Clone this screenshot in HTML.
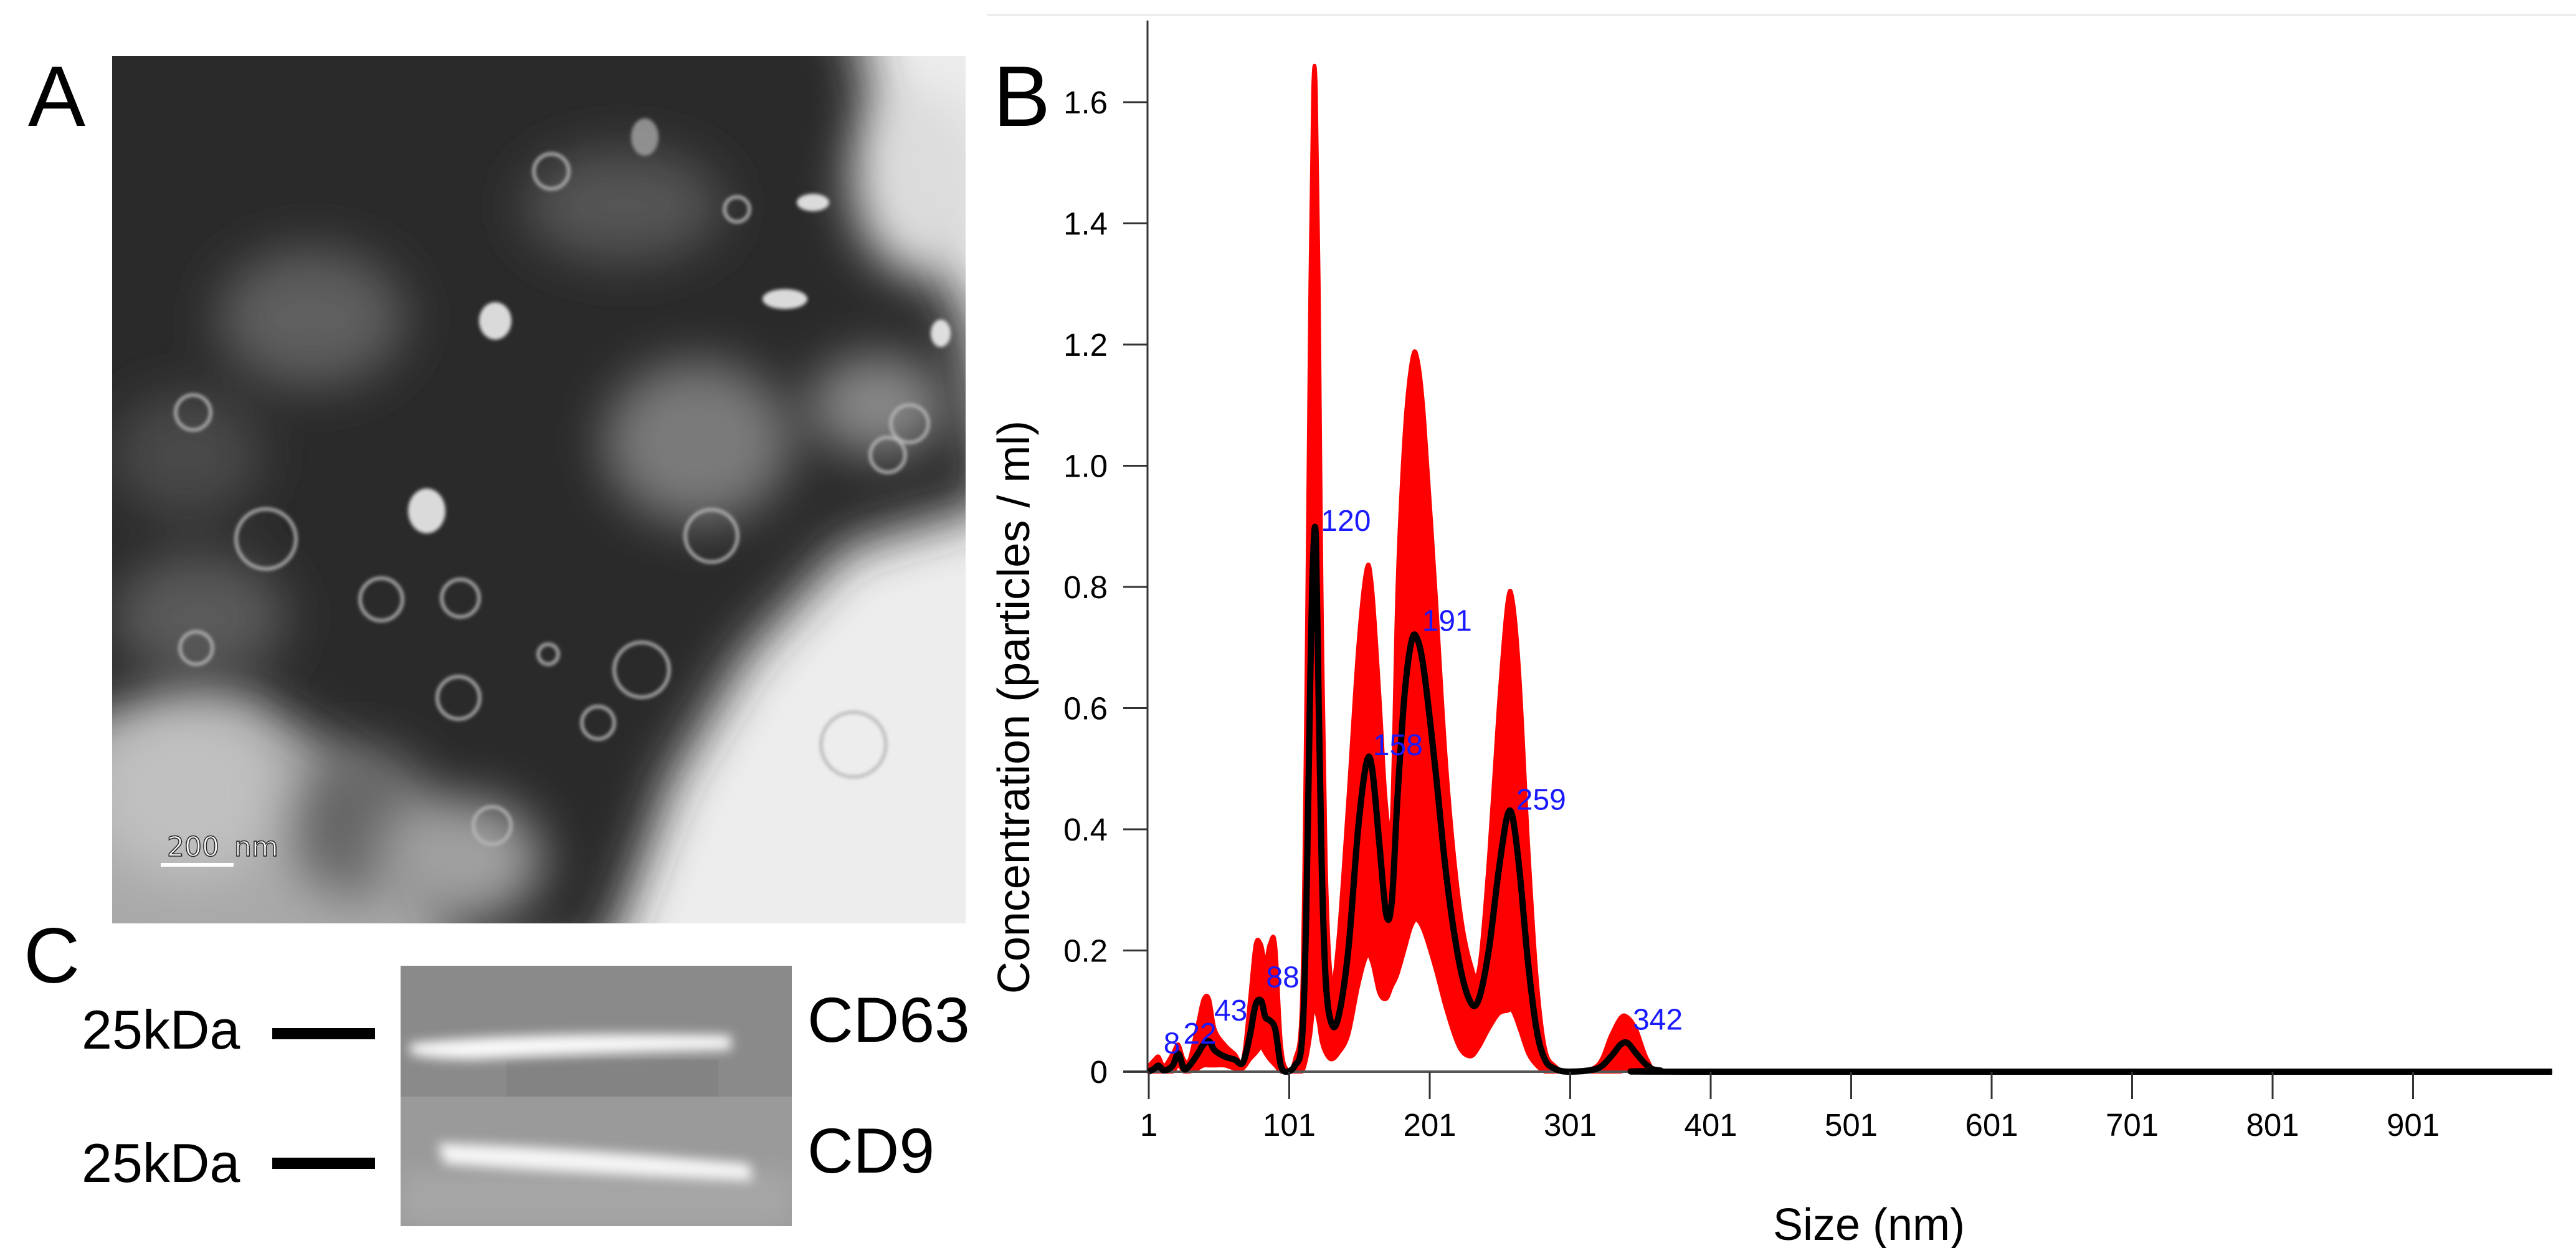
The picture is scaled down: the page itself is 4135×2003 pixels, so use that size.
<!DOCTYPE html>
<html><head><meta charset="utf-8">
<style>
html,body{margin:0;padding:0;background:#fff;}
#fig{position:relative;width:4135px;height:2003px;overflow:hidden;font-family:"Liberation Sans",sans-serif;}
svg{position:absolute;left:0;top:0;}
</style></head>
<body>
<div id="fig">
<svg id="svg" width="4135" height="2003" viewBox="0 0 4135 2003">
<defs>
<filter id="b40" x="-30%" y="-30%" width="160%" height="160%"><feGaussianBlur stdDeviation="40"/></filter>
<filter id="b20" x="-30%" y="-30%" width="160%" height="160%"><feGaussianBlur stdDeviation="18"/></filter>
<filter id="b3"><feGaussianBlur stdDeviation="3"/></filter>
<filter id="b8" x="-20%" y="-100%" width="140%" height="300%"><feGaussianBlur stdDeviation="9"/></filter>
<clipPath id="clipA"><rect x="0" y="0" width="1370" height="1392"/></clipPath>
<clipPath id="clipC"><rect x="0" y="0" width="628" height="418"/></clipPath>
</defs>

<!-- Panel labels -->
<text x="45" y="202" font-size="138">A</text>
<text x="1594" y="202" font-size="138">B</text>
<text x="38" y="1577" font-size="125">C</text>

<!-- Panel A: TEM image -->
<g transform="translate(180,90)" clip-path="url(#clipA)">
  <rect x="0" y="0" width="1370" height="1392" fill="#ededed"/>
  <ellipse cx="300" cy="1230" rx="520" ry="330" fill="#a9a9a9" filter="url(#b40)"/>
  <polygon points="-100,-100 1180,-100 1250,180 1370,420 1420,720 1180,790 1020,960 900,1160 790,1450 560,1450 460,1180 200,1020 -100,1080" fill="#2c2c2c" filter="url(#b40)"/>
  <g filter="url(#b40)">
    <ellipse cx="320" cy="420" rx="150" ry="110" fill="#5e5e5e"/>
    <ellipse cx="820" cy="240" rx="160" ry="90" fill="#555"/>
    <ellipse cx="940" cy="620" rx="150" ry="130" fill="#7a7a7a"/>
    <ellipse cx="120" cy="1180" rx="160" ry="140" fill="#c0c0c0"/>
    <ellipse cx="400" cy="1230" rx="120" ry="120" fill="#666"/>
    <ellipse cx="560" cy="1290" rx="130" ry="100" fill="#a0a0a0"/>
    <ellipse cx="1230" cy="560" rx="110" ry="80" fill="#888"/>
    <ellipse cx="1300" cy="200" rx="110" ry="150" fill="#dcdcdc"/>
    <ellipse cx="120" cy="640" rx="120" ry="100" fill="#4a4a4a"/>
    <ellipse cx="140" cy="900" rx="140" ry="100" fill="#5a5a5a"/>
  </g>
  <g fill="none" stroke="#b8b8b8" stroke-width="5" filter="url(#b3)">
    <circle cx="705" cy="185" r="28"/><circle cx="1003" cy="246" r="20"/>
    <circle cx="130" cy="572" r="28"/><circle cx="247" cy="775" r="48"/>
    <circle cx="432" cy="872" r="34"/><circle cx="559" cy="870" r="30"/>
    <circle cx="962" cy="770" r="42"/><circle cx="850" cy="985" r="44"/>
    <circle cx="556" cy="1030" r="34"/><circle cx="780" cy="1070" r="26"/>
    <circle cx="1190" cy="1105" r="52"/><circle cx="1280" cy="590" r="30"/>
    <circle cx="1245" cy="640" r="28"/><circle cx="700" cy="960" r="16"/>
    <circle cx="135" cy="950" r="26"/><circle cx="610" cy="1235" r="30"/>
  </g>
  <g fill="#eeeeee" filter="url(#b3)" opacity="0.9">
    <ellipse cx="615" cy="425" rx="26" ry="30"/>
    <ellipse cx="1080" cy="390" rx="36" ry="16"/>
    <ellipse cx="1125" cy="235" rx="26" ry="14"/>
    <ellipse cx="505" cy="730" rx="30" ry="36"/>
    <ellipse cx="1330" cy="445" rx="16" ry="22"/>
    <ellipse cx="855" cy="130" rx="22" ry="30" fill="#999"/>
  </g>
  <line x1="78" y1="1298" x2="195" y2="1298" stroke="#fff" stroke-width="6"/>
  <text x="88" y="1284" font-size="44" fill="#fff" stroke="#222" stroke-width="1.5" font-family="DejaVu Sans, sans-serif">200 <tspan dx="10">nm</tspan></text>
</g>

<!-- Panel C: western blot -->
<g transform="translate(643,1550)" clip-path="url(#clipC)">
  <rect x="0" y="0" width="628" height="210" fill="#8a8a8a"/>
  <rect x="0" y="210" width="628" height="208" fill="#9a9a9a"/>
  <rect x="170" y="150" width="340" height="60" fill="#838383"/>
  <rect x="0" y="330" width="628" height="88" fill="#a6a6a6" filter="url(#b20)"/>
  <path d="M15,125 Q200,105 530,112 L530,135 Q300,140 120,150 Q40,150 15,140 Z" fill="#fbfbfb" filter="url(#b8)"/>
  <path d="M60,285 Q250,290 560,318 L565,345 Q300,335 70,318 Z" fill="#f6f6f6" filter="url(#b8)"/>
</g>
<text x="131" y="1683" font-size="88">25kDa</text>
<rect x="437" y="1650" width="165" height="18" fill="#000"/>
<text x="131" y="1897" font-size="88">25kDa</text>
<rect x="437" y="1858" width="165" height="18" fill="#000"/>
<text x="1296" y="1672" font-size="102">CD63</text>
<text x="1296" y="1882" font-size="102">CD9</text>

<!-- Panel B chart -->
<line x1="1585" y1="24" x2="4135" y2="24" stroke="#e8e8e8" stroke-width="3"/>
<g id="chart"></g>
</svg>
</div>
<script>
const sizes = [1,5,8,12,18,22,26,30,36,40,44,48,55,62,68,73,77,81,84,87,91,95,99,105,110,113,116,118,120,122,124,127,131,136,143,150,156,160,165,170,174,178,183,188,192,197,205,213,222,230,236,243,250,256,260,265,271,277,283,290,300,320,330,337,342,348,356,365,400,1000];
const meanConc = [0,0.005,0.01,0.002,0.01,0.03,0.005,0.01,0.03,0.045,0.05,0.035,0.025,0.02,0.015,0.06,0.11,0.117,0.09,0.085,0.07,0.01,0,0.01,0.05,0.25,0.65,0.85,0.88,0.6,0.35,0.15,0.08,0.09,0.2,0.4,0.51,0.5,0.38,0.26,0.28,0.45,0.62,0.71,0.715,0.66,0.5,0.32,0.18,0.115,0.12,0.2,0.33,0.42,0.42,0.33,0.18,0.07,0.02,0.005,0,0.005,0.025,0.045,0.047,0.03,0.01,0.002,0,0];
const upperConc = [0.01,0.02,0.025,0.01,0.03,0.045,0.02,0.02,0.08,0.12,0.12,0.07,0.045,0.03,0.02,0.12,0.21,0.21,0.18,0.21,0.21,0.05,0.005,0.02,0.12,0.6,1.3,1.62,1.62,1.3,0.8,0.35,0.15,0.22,0.45,0.7,0.83,0.8,0.63,0.44,0.42,0.8,1.05,1.17,1.18,1.08,0.8,0.5,0.28,0.18,0.17,0.35,0.6,0.77,0.78,0.65,0.38,0.16,0.04,0.01,0,0.01,0.06,0.09,0.09,0.07,0.02,0,0,0];
const lowerConc = [0,0,0,0,0,0.01,0,0,0.005,0.01,0.01,0.01,0.01,0.005,0.005,0.02,0.03,0.04,0.03,0.02,0.01,0,0,0,0,0.02,0.06,0.1,0.1,0.08,0.05,0.03,0.02,0.03,0.06,0.14,0.19,0.18,0.13,0.12,0.14,0.16,0.2,0.24,0.25,0.23,0.17,0.1,0.04,0.025,0.04,0.07,0.095,0.1,0.1,0.07,0.03,0.01,0,0,0,0,0,0,0.005,0,0,0,0,0];
const peakLabels = ["8","22","43","88","120","158","191","259","342"];
const peakSizes = [8,22,44,81,120,157,192,259,342];
const peakConc = [0.018,0.034,0.072,0.127,0.88,0.51,0.715,0.42,0.057];
const yTicks = [0,0.2,0.4,0.6,0.8,1.0,1.2,1.4,1.6];
const yTickLabels = ["0","0.2","0.4","0.6","0.8","1.0","1.2","1.4","1.6"];
const xTicks = [1,101,201,301,401,501,601,701,801,901];

const NS = "http://www.w3.org/2000/svg";
const X0 = 1844, XS = 2.255, Y0 = 1720, YS = 972.5;
function xs(v){ return X0 + (v-1)*XS; }
function ys(v){ return Y0 - v*YS; }
const chart = document.getElementById('chart');
function mk(tag, attrs){ const e=document.createElementNS(NS,tag); for(const k in attrs) e.setAttribute(k,attrs[k]); chart.appendChild(e); return e; }
function smooth(pts){
  let d = "M"+pts[0][0].toFixed(1)+","+pts[0][1].toFixed(1);
  for(let i=0;i<pts.length-1;i++){
    const p0=pts[Math.max(0,i-1)], p1=pts[i], p2=pts[i+1], p3=pts[Math.min(pts.length-1,i+2)];
    const c1x=p1[0]+(p2[0]-p0[0])/6, c1y=p1[1]+(p2[1]-p0[1])/6;
    const c2x=p2[0]-(p3[0]-p1[0])/6, c2y=p2[1]-(p3[1]-p1[1])/6;
    d += " C"+c1x.toFixed(1)+","+Math.min(Y0,c1y).toFixed(1)+" "+c2x.toFixed(1)+","+Math.min(Y0,c2y).toFixed(1)+" "+p2[0].toFixed(1)+","+p2[1].toFixed(1);
  }
  return d;
}
const up = sizes.map((s,i)=>[xs(s), ys(upperConc[i])]);
const lo = sizes.map((s,i)=>[xs(s), ys(lowerConc[i])]).reverse();
const band = mk('path',{d: smooth(up)+" L"+lo[0][0]+","+lo[0][1]+" "+smooth(lo).slice(1)+" Z", fill:'#ff0000', stroke:'#ff0000', 'stroke-width':6});


const xax = mk('line',{x1:1803,y1:Y0,x2:4090,y2:Y0,stroke:'#555',"stroke-width":4});


const yax = mk('line',{x1:X0-2,y1:33,x2:X0-2,y2:Y0,stroke:'#333',"stroke-width":3});


const mean = mk('path',{d: smooth(sizes.map((s,i)=>[xs(s), ys(meanConc[i])])), fill:'none', stroke:'#000', 'stroke-width':10, 'stroke-linejoin':'round'});


yTicks.forEach((t,i)=>{
  const l = mk('line',{x1:1803,y1:ys(t),x2:X0-2,y2:ys(t),stroke:'#333','stroke-width':3});
  
  
  const tx = mk('text',{x:1778,y:ys(t)+18,'font-size':51,'text-anchor':'end',fill:'#000'});
  tx.textContent = yTickLabels[i];
  
  
});
xTicks.forEach(t=>{
  const l = mk('line',{x1:xs(t),y1:Y0,x2:xs(t),y2:1764,stroke:'#333','stroke-width':3});
  
  
  const tx = mk('text',{x:xs(t),y:1823,'font-size':51,'text-anchor':'middle',fill:'#000'});
  tx.textContent = String(t);
  
  
});
peakLabels.forEach((lab,i)=>{
  const tx = mk('text',{x:xs(peakSizes[i])+8,y:ys(peakConc[i])-12,'font-size':48,fill:'#1a1aff'});
  tx.textContent = lab;
  
  
});
const yt = mk('text',{x:0,y:0,'font-size':72,'text-anchor':'middle',transform:'translate(1652,1135) rotate(-90)'});
yt.textContent = 'Concentration (particles / ml)';


const xt = mk('text',{x:3000,y:1990,'font-size':72,'text-anchor':'middle'});
xt.textContent = 'Size (nm)';


</script>
</body></html>
